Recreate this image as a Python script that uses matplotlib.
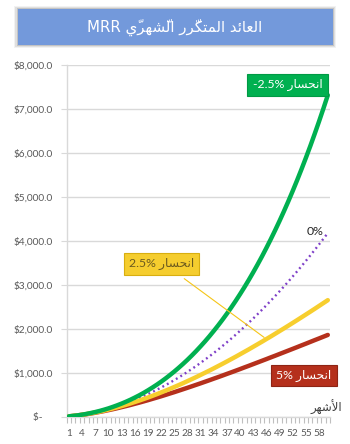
import matplotlib
matplotlib.use('Agg')
import matplotlib.pyplot as plt
from matplotlib.patches import Rectangle
from matplotlib.ticker import FuncFormatter, FixedLocator

plt.rcParams['font.family'] = ['Lato', 'DejaVu Sans']

months = list(range(1, 61))

# MRR per month for each churn scenario
mrr_expansion = [8, 19, 31, 46, 64, 84, 106, 131, 159, 189,
                 223, 259, 298, 340, 385, 434, 485, 540, 599, 661,
                 726, 795, 868, 945, 1026, 1111, 1200, 1293, 1391, 1493,
                 1600, 1711, 1827, 1949, 2075, 2206, 2343, 2485, 2633, 2787,
                 2946, 3112, 3284, 3462, 3646, 3838, 4036, 4241, 4453, 4672,
                 4899, 5134, 5377, 5628, 5887, 6154, 6431, 6716, 7011, 7315]
mrr_no_churn = [8, 19, 31, 46, 62, 81, 102, 124, 149, 176,
                205, 237, 270, 305, 343, 382, 424, 467, 513, 561,
                611, 663, 717, 773, 831, 891, 954, 1018, 1085, 1153,
                1224, 1297, 1371, 1448, 1527, 1608, 1692, 1777, 1864, 1954,
                2045, 2139, 2234, 2332, 2432, 2534, 2638, 2744, 2852, 2962,
                3074, 3189, 3305, 3424, 3544, 3667, 3792, 3918, 4047, 4178]
mrr_churn_25 = [8, 18, 30, 44, 60, 77, 96, 116, 138, 162,
                187, 213, 241, 270, 301, 333, 366, 401, 436, 473,
                511, 551, 591, 632, 675, 718, 762, 808, 854, 901,
                950, 999, 1048, 1099, 1151, 1203, 1256, 1310, 1364, 1420,
                1476, 1532, 1590, 1648, 1706, 1766, 1825, 1886, 1947, 2008,
                2070, 2133, 2196, 2260, 2324, 2388, 2453, 2519, 2585, 2651]
mrr_churn_5 = [8, 18, 30, 43, 57, 73, 90, 109, 128, 149,
               170, 193, 217, 241, 266, 293, 319, 347, 375, 405,
               434, 464, 495, 527, 558, 591, 624, 657, 691, 725,
               759, 794, 829, 865, 900, 936, 973, 1009, 1046, 1083,
               1121, 1158, 1196, 1234, 1272, 1310, 1349, 1387, 1426, 1465,
               1504, 1543, 1582, 1622, 1661, 1701, 1741, 1780, 1820, 1860]

tick_months = months[::3]
y_ticks = [0, 1000, 2000, 3000, 4000, 5000, 6000, 7000, 8000]

# Arabic words written with presentation forms, in left-to-right visual order
word_churn = '\uFEAD\uFE8E\uFEB4\uFEA4\uFEE7\uFE8D'
title_text = ('MRR '
              + '\uFEF1\u0651\uFEAE\uFEEC\uFEB8\u0651\uFEDF\uFE8D' + ' '
              + '\uFEAD\uFEAE\u0651\uFEDC\uFE98\uFEE4\uFEDF\uFE8D' + ' '
              + '\uFEAA\uFE8B\uFE8E\uFECC\uFEDF\uFE8D')
xlabel_text = '\uFEAE\uFEEC\uFEB7\uFEF7\uFE8D'

W, H = 350, 444
fig = plt.figure(figsize=(W / 100, H / 100), dpi=100)
fig.patch.set_facecolor('white')

# title banner with a soft shadow
for i, a in enumerate([0.05, 0.08, 0.12]):
    g = 3 - i
    fig.patches.append(Rectangle(((17.5 - g) / W, (H - 45 - g) / H),
                                 (315.5 + 2 * g) / W, (36 + 2 * g) / H,
                                 transform=fig.transFigure, fc='black',
                                 ec='none', alpha=a, zorder=0))
fig.patches.append(Rectangle((17.5 / W, (H - 45) / H), 315.5 / W, 36 / H,
                             transform=fig.transFigure, fc='#7399DB',
                             ec='none', zorder=1))
fig.text(0.5, 1 - 27 / H, title_text, ha='center', va='center',
         color='white', fontsize=10.8, family=['DejaVu Sans'])

ax = fig.add_axes([66.7 / W, 27.3 / H, 263.3 / W, 351.7 / H])
ax.set_xlim(0.5, 60.5)
ax.set_ylim(0, 8000)

ax.plot(months, mrr_no_churn, color='#7E3FC8', lw=1.7, ls=(0, (0.8, 1.4)),
        zorder=3)
ax.plot(months, mrr_churn_5, color='#B5301C', lw=3.2,
        solid_capstyle='round', zorder=4)
ax.plot(months, mrr_churn_25, color='#F7CE2E', lw=3.2,
        solid_capstyle='round', zorder=5)
ax.plot(months, mrr_expansion, color='#00B050', lw=3.2,
        solid_capstyle='round', zorder=6)

ax.yaxis.set_major_locator(FixedLocator(y_ticks))
ax.yaxis.set_major_formatter(FuncFormatter(
    lambda v, p: '$-    ' if v == 0 else '${:,.1f}'.format(v)))
ax.yaxis.grid(True, color='#D9D9D9', lw=1)
ax.set_axisbelow(True)

ax.set_xticks(tick_months)
ax.set_xticklabels([str(m) for m in tick_months])
ax.set_xticks([m + 0.5 for m in range(0, 61)], minor=True)
ax.tick_params(axis='x', which='major', length=0, pad=9, labelsize=7.2,
               labelcolor='#595959')
ax.tick_params(axis='x', which='minor', length=4, color='#BFBFBF', width=0.8)
ax.tick_params(axis='y', which='major', length=4, color='#D9D9D9',
               labelsize=7.3, labelcolor='#595959', pad=6)

for s in ['top', 'right']:
    ax.spines[s].set_visible(False)
for s in ['left', 'bottom']:
    ax.spines[s].set_color('#D9D9D9')
    ax.spines[s].set_linewidth(1)

# series labels
fig.text(287.5 / W, 1 - 85 / H, '-2.5% ' + word_churn, ha='center',
         va='center', color='white', fontsize=8.8,
         bbox=dict(boxstyle='square,pad=0.42', fc='#00B050', ec='#009A45',
                   lw=0.8), zorder=10)
ax.annotate('', xy=(46, mrr_churn_25[45]), xycoords='data',
            xytext=(182 / W, 1 - 277 / H), textcoords='figure fraction',
            arrowprops=dict(arrowstyle='-', color='#F5C518', lw=0.8),
            zorder=7)
fig.text(161.5 / W, 1 - 264 / H, '2.5% ' + word_churn, ha='center',
         va='center', color='#6B5A1E', fontsize=8.8,
         bbox=dict(boxstyle='square,pad=0.42', fc='#F5CD2E', ec='#D8AE10',
                   lw=0.8), zorder=10)
fig.text(304 / W, 1 - 375.5 / H, '5% ' + word_churn, ha='center',
         va='center', color='white', fontsize=8.8,
         bbox=dict(boxstyle='square,pad=0.4', fc='#B5301C', ec='#8E2414',
                   lw=0.8), zorder=10)
fig.text(315 / W, 1 - 231 / H, '0%', ha='center', va='center',
         color='#262626', fontsize=8.8)
fig.text(326 / W, 1 - 407 / H, xlabel_text, ha='center', va='center',
         color='#404040', fontsize=8.5)

fig.savefig('out.png', dpi=100)
